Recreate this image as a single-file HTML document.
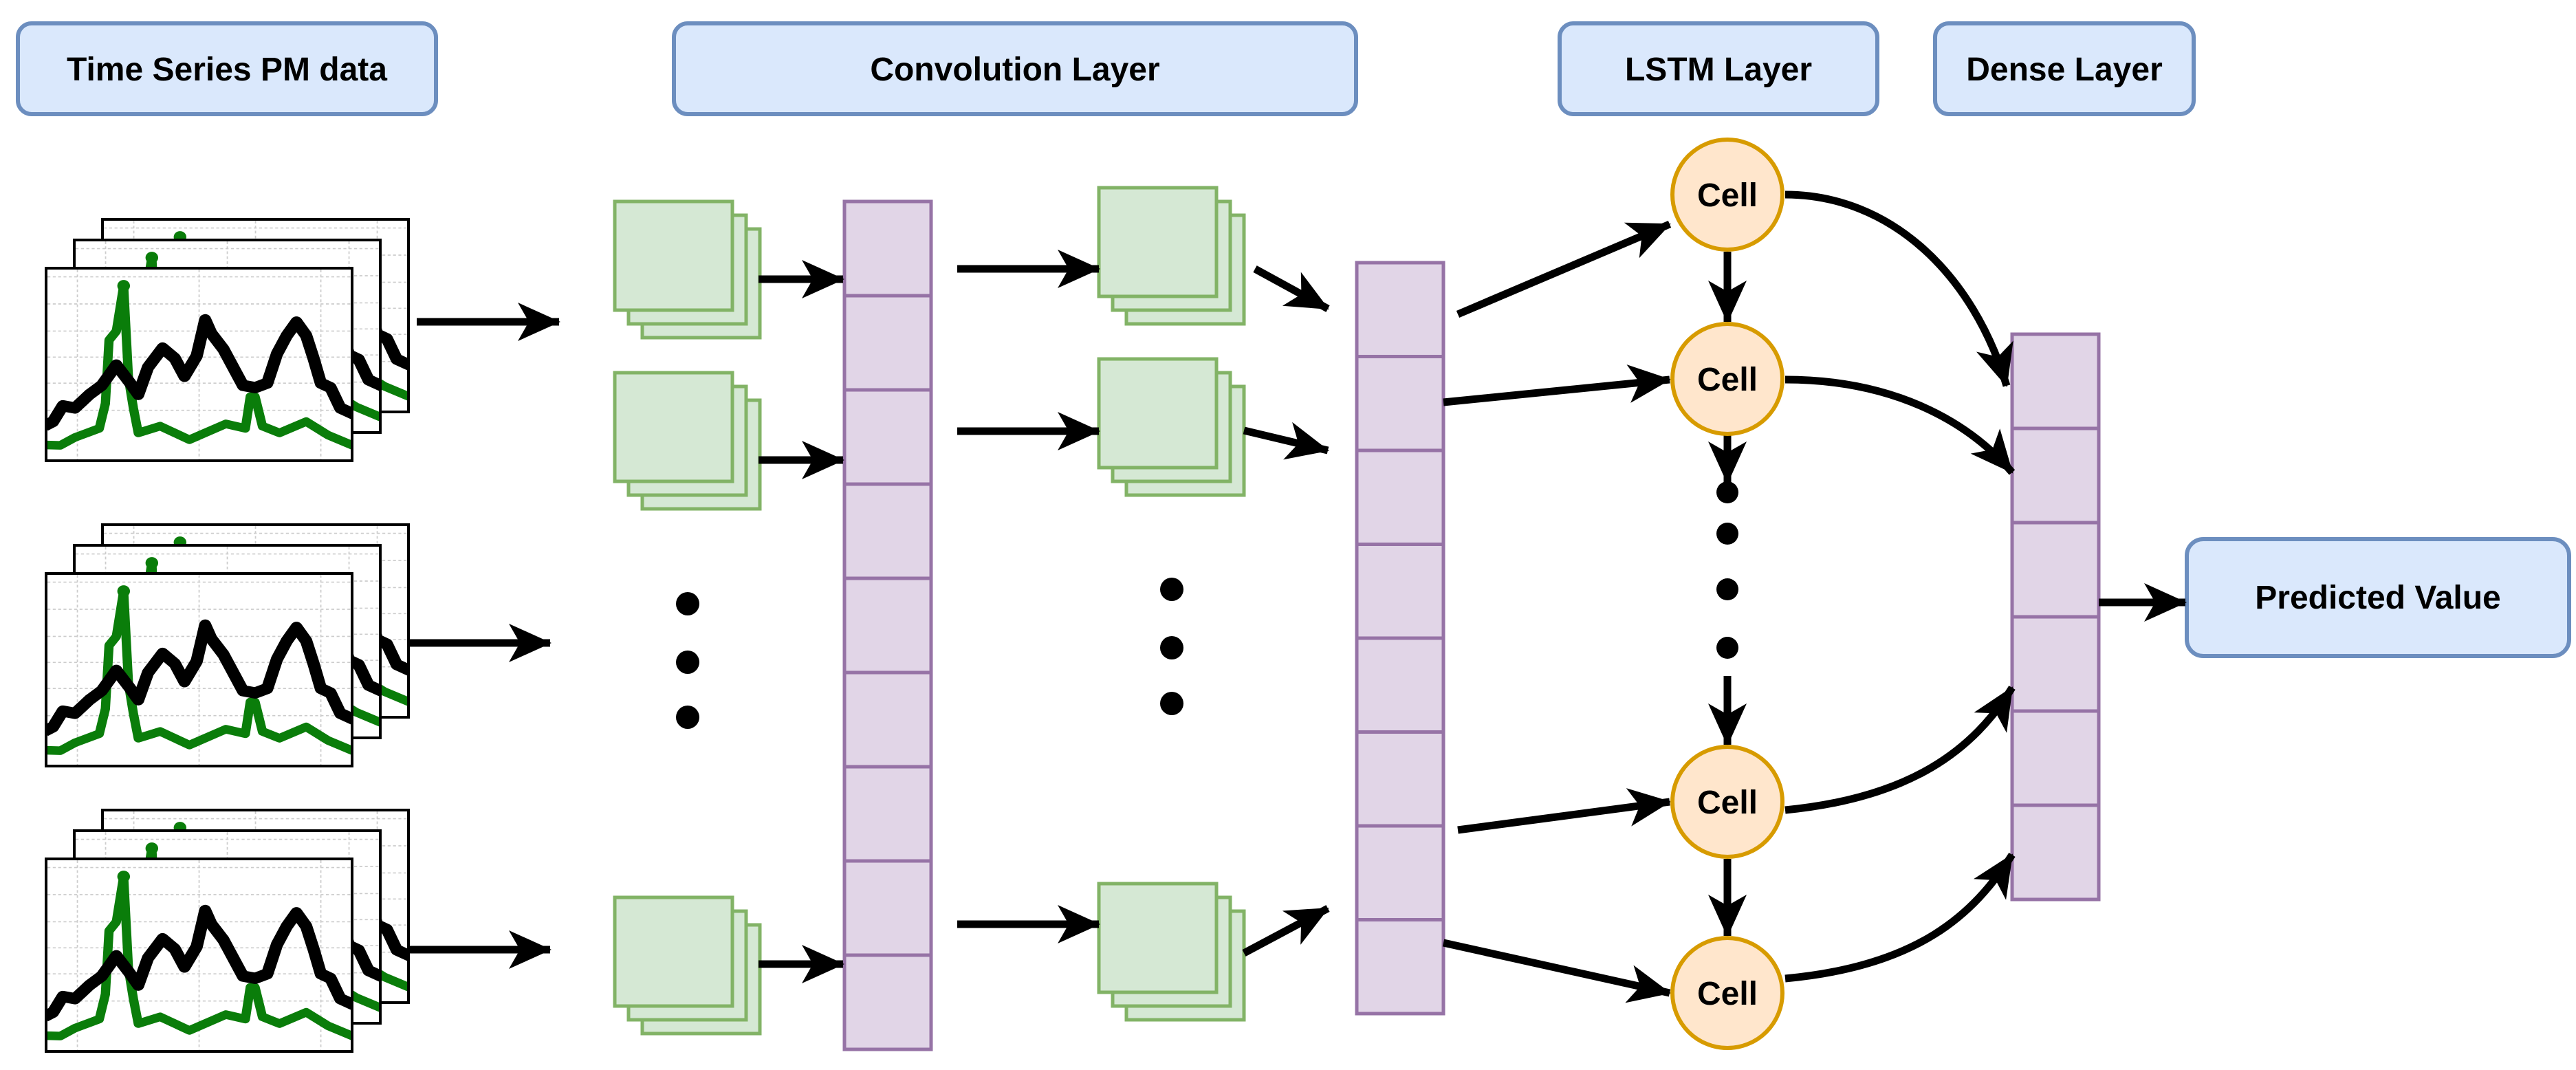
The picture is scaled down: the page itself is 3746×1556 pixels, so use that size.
<!DOCTYPE html>
<html><head><meta charset="utf-8"><style>
html,body{margin:0;padding:0;background:#fff}
svg{display:block}
text{font-family:"Liberation Sans",sans-serif;font-weight:bold;fill:#000}
</style></head><body>
<svg width="3746" height="1556" viewBox="0 0 3746 1556" xmlns="http://www.w3.org/2000/svg">
<defs>
<marker id="ah" markerUnits="userSpaceOnUse" markerWidth="80" markerHeight="70" viewBox="-5 -35 80 70" refX="60" refY="0" orient="auto">
<path d="M0,-28 L62,0 L0,28 L16,0 Z" fill="#000"/>
</marker>
<clipPath id="cc"><rect x="0" y="0" width="1246" height="839"/></clipPath>
<g id="chartc">
<g clip-path="url(#cc)">
<g stroke="#ccc" stroke-width="5" stroke-dasharray="12 10" fill="none">
<line x1="0" y1="32" x2="1246" y2="32"/><line x1="0" y1="152" x2="1246" y2="152"/>
<line x1="0" y1="272" x2="1246" y2="272"/><line x1="0" y1="387" x2="1246" y2="387"/>
<line x1="0" y1="502" x2="1246" y2="502"/><line x1="0" y1="622" x2="1246" y2="622"/>
<line x1="123" y1="0" x2="123" y2="839"/><line x1="623" y1="0" x2="623" y2="839"/><line x1="1123" y1="0" x2="1123" y2="839"/>
</g>
<polyline fill="none" stroke="#0a7d0a" stroke-width="38" stroke-linejoin="round" points="-10,775 53,777 113,742 213,702 238,592 253,312 283,272 313,72 333,482 353,612 373,722 463,692 583,752 733,682 813,702 833,562 853,562 883,692 953,722 1063,672 1153,732 1260,780"/>
<circle cx="313" cy="72" r="26" fill="#0a7d0a"/>
<polyline fill="none" stroke="#000" stroke-width="50" stroke-linejoin="round" points="-10,690 23,672 63,602 113,612 173,552 223,512 283,422 333,492 373,552 413,432 473,347 523,392 563,472 613,382 648,222 673,282 723,352 803,512 853,522 903,502 943,372 983,292 1023,232 1063,292 1093,392 1123,502 1163,522 1203,612 1260,640"/>
</g>
</g>
<g id="frame">
<rect x="0" y="0" width="445" height="280" fill="#fff" stroke="#000" stroke-width="4"/>
<g transform="translate(2,2) scale(0.3540,0.3290)"><use href="#chartc"/></g>
</g>
<g id="stackc">
<use href="#frame" x="82" y="-71"/>
<use href="#frame" x="41" y="-41"/>
<use href="#frame" x="0" y="0"/>
</g>
<g id="gstack">
<rect x="40" y="40" width="171" height="158" fill="#d5e8d4" stroke="#82b366" stroke-width="5"/>
<rect x="20" y="20" width="171" height="158" fill="#d5e8d4" stroke="#82b366" stroke-width="5"/>
<rect x="0" y="0" width="171" height="158" fill="#d5e8d4" stroke="#82b366" stroke-width="5"/>
</g>
</defs>

<g fill="#dae8fc" stroke="#6c8ebf" stroke-width="6">
<rect x="26" y="34" width="608" height="132" rx="20"/>
<rect x="980" y="34" width="992" height="132" rx="20"/>
<rect x="2268" y="34" width="462" height="132" rx="20"/>
<rect x="2814" y="34" width="376" height="132" rx="20"/>
<rect x="3180" y="784" width="556" height="170" rx="24"/>
</g>
<g font-size="48" text-anchor="middle">
<text x="330" y="117">Time Series PM data</text>
<text x="1476" y="117">Convolution Layer</text>
<text x="2499" y="117">LSTM Layer</text>
<text x="3002" y="117">Dense Layer</text>
<text x="3458" y="885">Predicted Value</text>
</g>

<use href="#stackc" x="67" y="390"/>
<use href="#stackc" x="67" y="834"/>
<use href="#stackc" x="67" y="1249"/>

<use href="#gstack" x="894" y="293"/>
<use href="#gstack" x="894" y="542"/>
<use href="#gstack" x="894" y="1305"/>
<use href="#gstack" x="1598" y="273"/>
<use href="#gstack" x="1598" y="522"/>
<use href="#gstack" x="1598" y="1285"/>

<g fill="#e1d5e7" stroke="#9673a6" stroke-width="5">
<rect x="1228" y="293" width="126" height="137"/><rect x="1228" y="430" width="126" height="137"/>
<rect x="1228" y="567" width="126" height="137"/><rect x="1228" y="704" width="126" height="137"/>
<rect x="1228" y="841" width="126" height="137"/><rect x="1228" y="978" width="126" height="137"/>
<rect x="1228" y="1115" width="126" height="137"/><rect x="1228" y="1252" width="126" height="137"/>
<rect x="1228" y="1389" width="126" height="137"/>

<rect x="1973" y="382" width="126" height="136.5"/><rect x="1973" y="518.5" width="126" height="136.5"/>
<rect x="1973" y="655" width="126" height="136.5"/><rect x="1973" y="791.5" width="126" height="136.5"/>
<rect x="1973" y="928" width="126" height="136.5"/><rect x="1973" y="1064.5" width="126" height="136.5"/>
<rect x="1973" y="1201" width="126" height="136.5"/><rect x="1973" y="1337.5" width="126" height="136.5"/>

<rect x="2926" y="486" width="126" height="137"/><rect x="2926" y="623" width="126" height="137"/>
<rect x="2926" y="760" width="126" height="137"/><rect x="2926" y="897" width="126" height="137"/>
<rect x="2926" y="1034" width="126" height="137"/><rect x="2926" y="1171" width="126" height="137"/>
</g>

<g fill="#000">
<circle cx="1000" cy="878" r="17"/><circle cx="1000" cy="963" r="17"/><circle cx="1000" cy="1043" r="17"/>
<circle cx="1704" cy="857" r="17"/><circle cx="1704" cy="942" r="17"/><circle cx="1704" cy="1023" r="17"/>
<circle cx="2512" cy="716" r="16"/><circle cx="2512" cy="776" r="16"/><circle cx="2512" cy="857" r="16"/><circle cx="2512" cy="942" r="16"/>
</g>

<g stroke="#000" stroke-width="11" fill="none" marker-end="url(#ah)">
<line x1="606" y1="468" x2="813" y2="468"/>
<line x1="595" y1="935" x2="800" y2="935"/>
<line x1="595" y1="1381" x2="800" y2="1381"/>
<line x1="1103" y1="406" x2="1226" y2="406"/>
<line x1="1103" y1="669" x2="1226" y2="669"/>
<line x1="1103" y1="1402" x2="1226" y2="1402"/>
<line x1="1392" y1="391" x2="1598" y2="391"/>
<line x1="1392" y1="627" x2="1598" y2="627"/>
<line x1="1392" y1="1344" x2="1598" y2="1344"/>
<line x1="1825" y1="391" x2="1931" y2="449"/>
<line x1="1809" y1="626" x2="1931" y2="655"/>
<line x1="1809" y1="1386" x2="1931" y2="1321"/>
<line x1="2120" y1="457" x2="2428" y2="326"/>
<line x1="2099" y1="585" x2="2428" y2="552"/>
<line x1="2120" y1="1207" x2="2428" y2="1166"/>
<line x1="2099" y1="1371" x2="2428" y2="1444"/>
<line x1="2512" y1="366" x2="2512" y2="468"/>
<line x1="2512" y1="629" x2="2512" y2="702"/>
<line x1="2512" y1="983" x2="2512" y2="1083"/>
<line x1="2512" y1="1249" x2="2512" y2="1361"/>
<path d="M2596,283 C2750,283 2870,400 2918,561"/>
<path d="M2596,552 C2750,552 2860,610 2926,687"/>
<path d="M2596,1178 C2780,1160 2870,1090 2926,1000"/>
<path d="M2596,1423 C2790,1405 2870,1330 2926,1243"/>
<line x1="3052" y1="876" x2="3178" y2="876"/>
</g>

<g fill="#ffe6cc" stroke="#d79b00" stroke-width="6">
<circle cx="2512" cy="283" r="80"/>
<circle cx="2512" cy="551" r="80"/>
<circle cx="2512" cy="1166" r="80"/>
<circle cx="2512" cy="1444" r="80"/>
</g>
<g font-size="48" text-anchor="middle">
<text x="2512" y="300">Cell</text>
<text x="2512" y="568">Cell</text>
<text x="2512" y="1183">Cell</text>
<text x="2512" y="1461">Cell</text>
</g>
</svg>
</body></html>
